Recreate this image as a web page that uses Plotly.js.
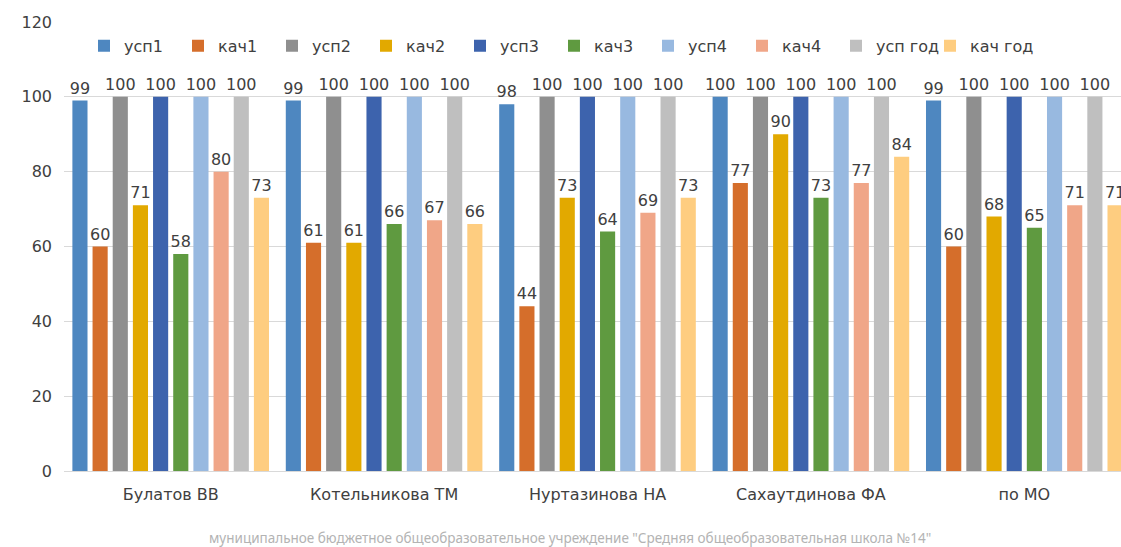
<!DOCTYPE html>
<html><head><meta charset="utf-8">
<script src="https://cdn.plot.ly/plotly-3.0.1.min.js"></script>
<style>html,body{margin:0;padding:0;overflow:hidden;background:#fff;}#chart{width:1140px;height:547px;}</style>
</head><body><div id="chart"></div>
<script>
const categories = ["Булатов ВВ", "Котельникова ТМ", "Нуртазинова НА", "Сахаутдинова ФА", "по МО"];
const seriesNames = ["усп1", "кач1", "усп2", "кач2", "усп3", "кач3", "усп4", "кач4", "усп год", "кач год"];
const usp1 = [99, 99, 98, 100, 99];
const kach1 = [60, 61, 44, 77, 60];
const usp2 = [100, 100, 100, 100, 100];
const kach2 = [71, 61, 73, 90, 68];
const usp3 = [100, 100, 100, 100, 100];
const kach3 = [58, 66, 64, 73, 65];
const usp4 = [100, 100, 100, 100, 100];
const kach4 = [80, 67, 69, 77, 71];
const uspGod = [100, 100, 100, 100, 100];
const kachGod = [73, 66, 73, 84, 71];
const seriesValues = [usp1, kach1, usp2, kach2, usp3, kach3, usp4, kach4, uspGod, kachGod];
const colors = ["#4e87c0", "#d56e2b", "#8f8f8f", "#e2a900", "#3d63ad", "#5f9a40", "#98b9e0", "#f0a688", "#bfbfbf", "#fecd80"];
const footer = "муниципальное бюджетное общеобразовательное учреждение \"Средняя общеобразовательная школа №14\"";

const font = "DejaVu Sans, Noto Sans, sans-serif";
const legendId = i => (i === 0 ? "legend" : "legend" + (i + 1));
const traces = seriesNames.map((n, i) => ({
  type: "bar", name: n, x: categories, y: seriesValues[i],
  marker: {color: colors[i]},
  legend: legendId(i),
  text: seriesValues[i].map(String), textposition: "outside", constraintext: "none",
  textfont: {family: font, size: 16, color: "#404040"},
  cliponaxis: false, hoverinfo: "skip"
}));

const layout = {
  width: 1140, height: 547,
  margin: {l: 64, r: 9, t: 22, b: 76},
  paper_bgcolor: "#fff", plot_bgcolor: "#fff",
  barmode: "group", bargap: 0.055, bargroupgap: 0.25,
  font: {family: font, size: 16, color: "#404040"},
  showlegend: true,
  xaxis: {type: "category", showgrid: false, showline: true, linecolor: "#d9d9d9", linewidth: 1,
    ticks: "", ticklabelstandoff: 9, tickfont: {family: font, size: 16, color: "#404040"}, fixedrange: true},
  yaxis: {range: [0, 120], dtick: 20, showgrid: true, gridcolor: "#d9d9d9", gridwidth: 1,
    zeroline: false, showline: false, ticks: "", ticklen: 0, ticklabelstandoff: 11,
    tickfont: {family: font, size: 16, color: "#404040"}, fixedrange: true},
  annotations: [{text: footer, xref: "paper", yref: "paper", x: 0.474, y: -0.15, xanchor: "center", yanchor: "middle",
    showarrow: false, font: {family: "Noto Sans, sans-serif", size: 13.5, color: "#b3b3b3"}}]
};
seriesNames.forEach((n, i) => {
  layout[legendId(i)] = {orientation: "h", xanchor: "left", x: (20 + 94 * i) / 1067, y: 0.985, yanchor: "top",
    bgcolor: "rgba(255,255,255,0)", font: {family: font, size: 16, color: "#404040"}};
});
Plotly.newPlot("chart", traces, layout, {displayModeBar: false, staticPlot: true});
</script></body></html>
